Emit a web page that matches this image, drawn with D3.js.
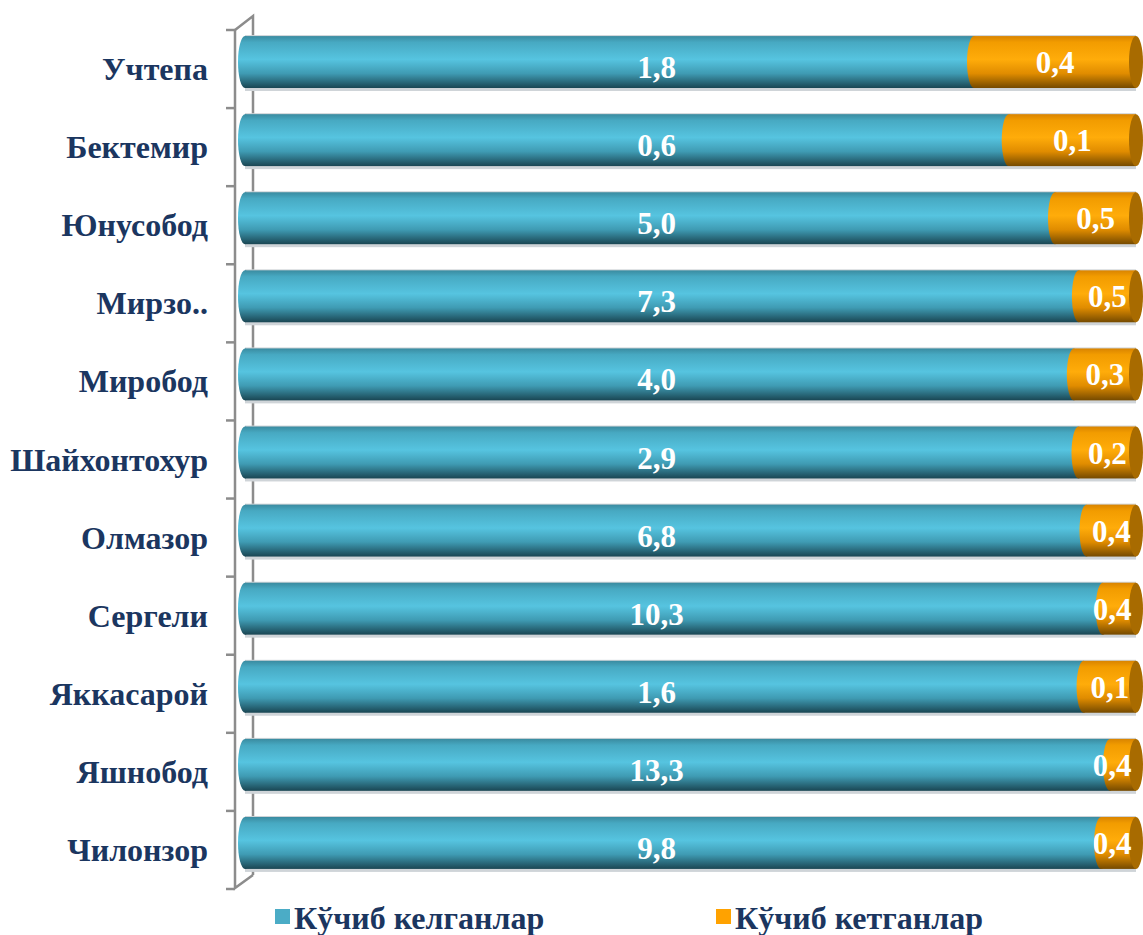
<!DOCTYPE html>
<html>
<head>
<meta charset="utf-8">
<script src="https://cdn.jsdelivr.net/npm/d3@7"></script>
<style>
  body { margin: 0; background: #fff; }
  svg { display: block; }
  .cat { font-family: "Liberation Serif", "Times New Roman", serif; font-weight: bold; fill: #1b3660; }
  .val { font-family: "Liberation Serif", "Times New Roman", serif; font-weight: bold; fill: #fff; }
</style>
</head>
<body>
<div id="chart"></div>
<script>
// categories (top to bottom) and values
var categories = ["Учтепа", "Бектемир", "Юнусобод", "Мирзо..", "Миробод", "Шайхонтохур",
                  "Олмазор", "Сергели", "Яккасарой", "Яшнобод", "Чилонзор"];
var arrived = [1.8, 0.6, 5.0, 7.3, 4.0, 2.9, 6.8, 10.3, 1.6, 13.3, 9.8];
var departed = [0.4, 0.1, 0.5, 0.5, 0.3, 0.2, 0.4, 0.4, 0.1, 0.4, 0.4];
var seriesNames = ["Кўчиб келганлар", "Кўчиб кетганлар"];

function fmt(v) { return v.toFixed(1).replace(".", ","); }

function create_chart(id) {
    var W = 1143, H = 935;
    var svg = d3.select("#" + id).append("svg")
        .attr("width", W)
        .attr("height", H);

    var rows = categories.map(function (c, i) {
        return { cat: c, a: arrived[i], d: departed[i] };
    });
    var stack = d3.stack().keys(["a", "d"]).offset(d3.stackOffsetExpand);
    var layers = stack(rows);

    var x = d3.scaleLinear().domain([0, 1]).range([245, 1136]);
    var y = d3.scaleBand().domain(categories).range([23, 882])
        .paddingInner(0.335).paddingOuter(0.1675);

    var defs = svg.append("defs");
    var grads = [
        { id: "gCyan", stops: [[0, "#3a8ba0"], [0.12, "#47a9c2"], [0.45, "#56c4e0"], [0.72, "#3f9bb3"], [1, "#1a4653"]] },
        { id: "gOrange", stops: [[0, "#d98400"], [0.12, "#f29c00"], [0.45, "#ffac0a"], [0.72, "#e08c00"], [1, "#754a00"]] }
    ];
    grads.forEach(function (g) {
        var lg = defs.append("linearGradient").attr("id", g.id)
            .attr("x1", 0).attr("y1", 0).attr("x2", 0).attr("y2", 1);
        g.stops.forEach(function (s) {
            lg.append("stop").attr("offset", s[0]).attr("stop-color", s[1]);
        });
    });
    var fills = ["url(#gCyan)", "url(#gOrange)"];
    var capColor = ["#2d7f95", "#a86b00"];
    var legendColor = ["#4bacc6", "#ffa200"];

    // 3D axis wall
    var ax = svg.append("g").attr("stroke", "#8c8c8c").attr("stroke-width", 2.5).attr("fill", "none");
    var top = y.range()[0] + 7, bot = y.range()[1] + 6;
    ax.append("path").attr("d", "M235," + top + "L235," + bot + "L253," + (bot - 13));
    ax.append("path").attr("d", "M235," + top + "L253," + (top - 14) + "L253," + (bot - 13));
    d3.range(categories.length + 1).forEach(function (k) {
        var ty = top + k * y.step();
        ax.append("line").attr("x1", 226).attr("x2", 235).attr("y1", ty).attr("y2", ty);
    });

    var rx = 7, bh = y.bandwidth();

    // floor shadow under each cylinder
    svg.append("g").selectAll("rect").data(categories).enter().append("rect")
        .attr("x", x(0)).attr("y", function (d) { return y(d) - 1; })
        .attr("width", x(1) - x(0)).attr("height", bh + 4)
        .attr("fill", "#cfd4d8");

    var g = svg.append("g");
    layers.forEach(function (layer, li) {
        var lg = g.append("g");
        layer.forEach(function (seg, i) {
            var cat = categories[i];
            var x0 = x(seg[0]), x1 = x(seg[1]), yy = y(cat);
            lg.append("rect").attr("x", x0).attr("y", yy)
                .attr("width", x1 - x0).attr("height", bh).attr("fill", fills[li]);
            lg.append("ellipse").attr("cx", x0).attr("cy", yy + bh / 2)
                .attr("rx", rx).attr("ry", bh / 2).attr("fill", fills[li]);
            if (li === layers.length - 1) {
                lg.append("ellipse").attr("cx", x1).attr("cy", yy + bh / 2)
                    .attr("rx", rx).attr("ry", bh / 2).attr("fill", capColor[li]);
            }
        });
    });

    // data labels
    var lab = svg.append("g").attr("class", "val").attr("font-size", 31).attr("text-anchor", "middle");
    layers[0].forEach(function (seg, i) {
        lab.append("text").attr("x", x(0.462))
            .attr("y", y(categories[i]) + bh / 2 + 16).text(fmt(arrived[i]));
    });
    layers[1].forEach(function (seg, i) {
        var cx = Math.min((x(seg[0]) + x(seg[1])) / 2, x(1) - 24);
        lab.append("text").attr("x", cx)
            .attr("y", y(categories[i]) + bh / 2 + 11).text(fmt(departed[i]));
    });

    // category labels
    svg.append("g").attr("class", "cat").attr("font-size", 32).attr("text-anchor", "end")
        .selectAll("text").data(categories).enter().append("text")
        .attr("x", 208).attr("y", function (d) { return y(d) + bh / 2 + 18; })
        .text(function (d) { return d; });

    // legend
    var leg = svg.append("g").attr("class", "cat").attr("font-size", 32);
    var lx = [275, 716];
    seriesNames.forEach(function (n, i) {
        leg.append("rect").attr("x", lx[i]).attr("y", 909).attr("width", 15).attr("height", 15)
            .attr("fill", legendColor[i]);
        leg.append("text").attr("x", lx[i] + 19).attr("y", 929).text(n);
    });
}
create_chart("chart");
</script>
</body>
</html>
